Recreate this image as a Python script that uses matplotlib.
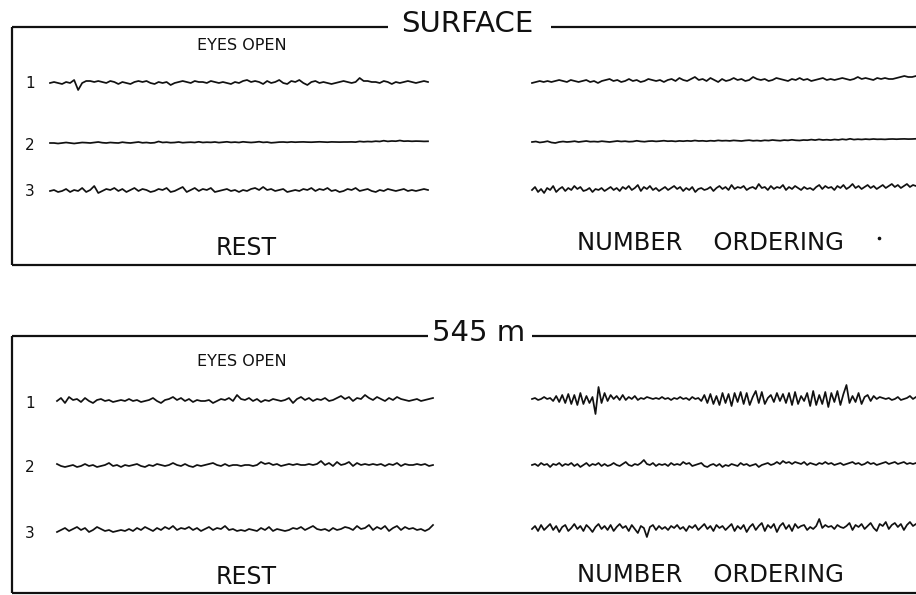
import numpy as np
import matplotlib
matplotlib.use("Agg")
import matplotlib.pyplot as plt

# ---------------- data (trace deflections, upward positive, in px units) ----------------
panel_titles = ["SURFACE", "545 m"]
condition_labels = ["REST", "NUMBER    ORDERING"]
subtitle = "EYES OPEN"
channel_labels = ["1", "2", "3"]

surface_rest_1 = [0, 1, 0, -1, 1, 0, 3, -7, 0, 2, 2, 1, 2, 1, 0, 2, 1, -1, 1, 0, -1, 1, 2, 1, 2, 0, -1, 1, 0, 1,
                  -2, 0, 1, 2, 1, 0, 2, 1, 1, 0, 2, 1, 0, 1, 0, -1, 1, 0, 2, 3, 1, 2, 1, -1, 2, 0, 1, 3, 0, -1,
                  2, 1, 3, 0, -2, 1, 2, 0, 1, 0, -1, 0, 1, 2, 1, 0, 1, 5, 2, 2, 1, 1, 0, 2, 1, -1, 1, 0, 1, 2,
                  1, 0, 1, 2, 1]
surface_rest_2 = [0, 0, -0.5, 0, 0.5, 0, -0.5, 0, 0.5, 0.3, 0, 0.5, 1, 0.3, 0, 0.5, 0.2, 0, 0.8, 0.3, 0, 0.5, 1,
                  0.2, 0.5, 0, 0.3, 1.5, 0.5, 0.8, 0.3, 0.5, 1, 0.3, 0.6, 0.8, 0.5, 1.2, 0.5, 0.8, 0.6, 1, 0.4,
                  0.8, 1.2, 0.6, 0.9, 0.5, 1.2, 0.8, 0.5, 0.8, 1.3, 0.6, 0.9, 0.2, 0.5, 0.9, 1.0, 0.7, 1.1, 0.8,
                  1, 1.1, 0.9, 0.8, 1.0, 1.2, 1.0, 0.8, 1.1, 1.0, 0.9, 1.0, 1.0, 1.1, 0.9, 1.6, 1.2, 1.5, 1.3,
                  1.8, 1.5, 2.3, 1.6, 2.0, 1.8, 2.5, 1.8, 2.0, 1.7, 1.9, 1.8, 1.6, 1.7]
surface_rest_3 = [0, 1, -1, 0, 2, -1, 1, 0, 3, -1, 1, 5, -2, 0, 2, 1, 3, 0, 2, -1, 1, 3, 0, 2, 1, -1, 0, 2, 1, 3,
                  -1, 0, 2, 4, -1, 1, 3, 0, 2, 1, 3, -1, 0, 1, 2, 0, 1, -1, 1, 0, 2, 3, 1, 4, 1, 2, 0, 1, 2, -1,
                  0, 1, 0, 2, 1, 3, 0, 2, 1, 3, 0, 1, -1, 0, 2, 1, 3, 0, 1, 2, 0, -1, 1, 0, 2, 1, 0, 1, 2, 0,
                  1, 0, 1, 2, 1]

surface_task_1 = [-1, 0, 1, 0, 1, 0, 1, 2, 1, 0, 2, 1, 0, 1, 2, 0, 1, -1, 1, 2, 3, 1, 2, 0, 1, 3, 1, 2, 0, 1,
                  3, 2, 1, 2, 0, 2, 3, 1, 4, 2, 1, 3, 5, 2, 3, 1, 4, 2, 0, 3, 1, 2, 4, 2, 3, 1, 2, 5, 3, 2,
                  3, 1, 2, 4, 3, 2, 1, 3, 2, 4, 2, 3, 1, 2, 3, 4, 2, 3, 2, 3, 4, 3, 2, 3, 5, 3, 4, 3, 2, 4,
                  3, 4, 3, 3, 4, 5, 6, 5, 5, 6]
surface_task_2 = [0, 0.5, -0.5, 0, 0.8, -0.5, -1, 0, 0.5, 0, 0.3, 0.8, 0, 0.5, 1, 0.3, 0.5, 0.2, 0.8, 0.4, 0,
                  0.5, 1, 0.5, 0.8, 0.3, 0.5, 1.2, 0.6, 0.3, 0.8, 1, 0.6, 0.9, 1.3, 0.8, 1, 0.6, 1.1, 0.8, 1.2,
                  0.9, 1.5, 1, 1.2, 0.8, 1.3, 1, 1.6, 1.2, 1.4, 1.1, 1.6, 1.3, 1.0, 1.5, 1.8, 1.2, 1.5, 1.1,
                  1.7, 1.4, 2.0, 1.6, 1.3, 1.9, 1.6, 2.2, 1.7, 1.5, 2.0, 1.8, 2.4, 1.9, 2.6, 2.0, 2.3, 1.9, 2.5,
                  2.1, 2.8, 2.3, 3.2, 2.4, 2.8, 2.5, 2.9, 2.6, 3.0, 2.7, 2.8, 2.6, 2.9, 3.0, 2.8, 3.0, 3.1, 2.9,
                  3.0, 3.2]
surface_task_3 = [0, 3, -2, 1, -3, 2, 0, 4, -2, 1, 3, -1, 2, 0, 4, 1, 3, -1, 0, 2, -2, 1, 0, 2, -1, 1, 3, 0, 2,
                  -1, 3, 1, 4, 0, 2, 5, -1, 3, 1, 4, 0, 2, -1, 1, 3, 0, 2, 4, 1, 3, -1, 2, 0, 3, -2, 1, 2, 0, 1,
                  3, -1, 2, 4, 1, 3, 0, 5, 1, 3, 2, 4, 0, 2, 3, 1, 6, 2, 3, 0, 4, 1, 3, 2, 5, 0, 3, 1, 4, 2, 0,
                  3, 1, 2, 0, 3, 5, 1, 4, 2, 3, 0, 4, 2, 5, 1, 3, 6, 2, 4, 1, 3, 5, 2, 4, 1, 3, 5, 2, 4, 6, 3, 5,
                  2, 4, 6, 3, 5, 4]

depth_rest_1 = [0, 3, -2, 4, 1, 2, -1, 3, 0, -2, 1, 2, 0, 1, -1, 0, 1, 0, 2, 0, 1, -1, 0, 1, 3, 0, -2, 1, 2, 4,
                1, 3, 0, 2, -1, 1, 0, 0, 1, -2, 0, 2, 1, 3, 0, 6, 2, 1, 3, 0, 2, -1, 1, 0, 2, 1, 0, 1, 3, -2,
                2, 4, 1, 3, 0, 2, 1, 3, 0, 1, 3, 5, 2, 4, 0, 3, 2, 6, 3, 1, 4, 2, 0, 3, 1, 4, 2, 1, 0, 1,
                2, 0, 1, 2, 3]
depth_rest_2 = [2, 0, -1, 0, 1, -1, 0, 2, 0, 1, -1, 0, 1, 3, 0, 1, -1, 1, 0, 1, 2, 0, -1, 1, 0, 2, 1, 0, 1, 3,
                1, 0, 2, 0, -1, 1, 0, 1, 2, 3, 1, 0, 2, 0, 1, 1, 0, 1, 1, 0, 1, 4, 2, 3, 1, 2, 0, 1, 2, 1,
                2, 1, 1, 2, 1, 2, 5, 1, 3, 0, 4, 1, 2, 4, 0, 3, 1, 2, 1, 2, 1, 2, 0, 2, 1, 3, 0, 2, 1, 1,
                2, 1, 2, 0, 1]
depth_rest_3 = [-1, 1, 3, 0, 2, 4, 1, 3, -1, 1, 4, 2, 0, 1, -1, 0, 1, 0, 2, 0, 3, 1, 4, 2, 0, 3, 1, 4, 2, 5,
                1, 3, 2, 4, 1, 3, 0, 2, 4, 1, 3, 2, 5, 1, 2, 0, 1, 0, 2, 1, 0, 3, 1, 4, 0, 2, 1, 0, 1, 3,
                2, 4, 1, 3, 5, 2, 1, 2, 0, 3, 1, 2, 4, 3, 1, 5, 2, 3, 6, 1, 4, 2, 5, 0, 3, 5, 1, 4, 2, 3,
                1, 2, 0, 2, 6]

depth_task_1 = [0, 1, -1, 0, 2, 0, 1,
                -2, 3, -3, 4, -4, 5,
                -5, 4, -6, 6, -5, 3, -4, 2,
                -15, 12, -4,
                6, -2, 4, 0, 3, -1, 4,
                -1, 2, 0, 3, -1, 1, 0, 2, 1, 0,
                1, 0, 2, 0, 1, -1, 1, 0, 2, 0, 1, -1, 2, 0, 1,
                -2, 4, -4, 5, -5, 3, -6, 6, -4, 5, -7, 6, -3, 7, -5,
                6, -6, 2, 8, -4, 7, -5, 1, 4, -3, 6, -2, 5, -4, 6,
                -6, 7, -5, 3, -2, 6, -7, 8, -6, 4, -5, 7, -8, 6, -3,
                8, -6, 5, 14, -4, 3, -3, 6, -5, 2,
                4, -2, 3, 0, 2, 1, 0, 1, -1, 0, 2, -1, 0, 1, 3, 0, 2]
depth_task_2 = [0, 1, -1, 2, 0, 1, -2, 1, 0, 2, -1, 1, 0, 2, -1, 1, -2, 0, 2, -1, 1, 0, 2, -1, 1, -1, 0, 2, 0,
                -1, 1, 3, 0, -1, 1, 0, 2, 5, 1, 0, 2, -1, 1, 0, 1, -1, 2, 0, 1, 0, 3, 1, 2, -1, 0, 1, 2, -1,
                -2, 0, 1, -1, 1, -2, 0, -1, 1, 0, -1, 2, 0, 1, -1, 0, 1, -2, 0, 1, 2, 0, 1, 3, 1, 4, 2, 3, 1,
                3, 2, 1, 3, 0, 2, 1, 0, 2, 1, 3, 1, 2, 0, 1, 2, 0, 1, 2, 3, 1, 2, 0, 1, 3, 1, 2, 0, 1, 2, 3,
                1, 2, 3, 1, 2, 3, 1, 2, 1, 2]
depth_task_3 = [0, 3, -2, 4, -1, 2, 5, -1, 3, -3, 2, 4, -2, 1, 5, 0, 3, -2, 4, 1, -3, 2, 5, 0, 3, -1, 4, -2, 2,
                5, 1, 3, -2, 4, 0, -4, 3, 1, -8, 2, 4, -1, 3, 0, 2, -1, 3, 1, 4, 0, 2, -2, 3, 1, 4, -1, 2, 5,
                0, 3, -2, 4, 1, 3, -1, 2, 5, -2, 3, 0, 4, -3, 2, 5, -1, 3, 6, -2, 4, 1, 5, -3, 3, 6, 0, 4, -2,
                5, 1, 3, 4, -1, 2, 0, 3, 10, 1, 4, 2, 3, 0, 4, 2, 1, 3, 6, -1, 4, 2, 5, 0, 3, 6, 1, -2, 5, 3,
                7, 0, 4, 6, 2, 5, -1, 4, 7, 3, 5]

# ---------------- layout ----------------
W, H = 916, 595
fig = plt.figure(figsize=(W / 100, H / 100), dpi=100)
ax = fig.add_axes([0, 0, 1, 1])
ax.set_xlim(0, W)
ax.set_ylim(H, 0)
ax.axis("off")

FONT = "DejaVu Sans"
ink = "#111111"
frame_lw = 1.6
trace_lw = 1.25

panels = [
    dict(top=27, bottom=265, title=panel_titles[0], title_x=467, gap=(388, 551),
         rows=[83, 143, 191], rows_r=[82, 142, 190],
         lx=(50, 428), rx=(532, 916),
         label_y=[83, 145, 192],
         left=[surface_rest_1, surface_rest_2, surface_rest_3],
         right=[surface_task_1, surface_task_2, surface_task_3],
         eyes_y=46, rest_y=248, task_y=243),
    dict(top=336, bottom=593, title=panel_titles[1], title_x=479, gap=(428, 532),
         rows=[401, 466, 531], rows_r=[399, 465, 529],
         lx=(57, 433), rx=(532, 916),
         label_y=[403, 468, 534],
         left=[depth_rest_1, depth_rest_2, depth_rest_3],
         right=[depth_task_1, depth_task_2, depth_task_3],
         eyes_y=361, rest_y=577, task_y=575),
]

for p in panels:
    # frame
    ax.plot([12, p["gap"][0]], [p["top"], p["top"]], color=ink, lw=frame_lw, solid_capstyle="butt")
    ax.plot([p["gap"][1], W], [p["top"], p["top"]], color=ink, lw=frame_lw, solid_capstyle="butt")
    ax.plot([12, 12], [p["top"], p["bottom"]], color=ink, lw=frame_lw, solid_capstyle="butt")
    ax.plot([12, W], [p["bottom"], p["bottom"]], color=ink, lw=frame_lw, solid_capstyle="butt")
    ax.text(p["title_x"], p["top"] - 3, p["title"], ha="center", va="center",
            fontsize=21, family=FONT, color=ink)
    ax.text(242, p["eyes_y"], subtitle, ha="center", va="center", fontsize=11.5, family=FONT, color=ink)
    ax.text(246, p["rest_y"], condition_labels[0], ha="center", va="center", fontsize=17, family=FONT,
            color=ink)
    ax.text(710, p["task_y"], condition_labels[1], ha="center", va="center", fontsize=17.5, family=FONT,
            color=ink)
    for lab, ly in zip(channel_labels, p["label_y"]):
        ax.text(30, ly, lab, ha="center", va="center", fontsize=11, family=FONT, color=ink)
    # traces
    for vals, y0 in zip(p["left"], p["rows"]):
        v = np.asarray(vals, dtype=float)
        x = np.linspace(p["lx"][0], p["lx"][1], len(v))
        ax.plot(x, y0 - v, color=ink, lw=trace_lw)
    for vals, y0 in zip(p["right"], p["rows_r"]):
        v = np.asarray(vals, dtype=float)
        x = np.linspace(p["rx"][0], p["rx"][1], len(v))
        ax.plot(x, y0 - v, color=ink, lw=trace_lw)

# small speck of the scan
ax.plot([879], [238], marker="o", ms=1.6, color=ink)

fig.savefig("out.png", dpi=100)
